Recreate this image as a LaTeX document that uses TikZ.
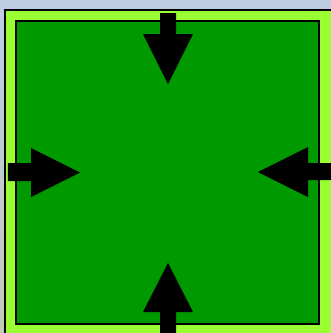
\documentclass[tikz,border=0pt]{standalone}
\begin{document}
\begin{tikzpicture}[x=1pt,y=-1pt,
  frame/.style={draw=black,line width=2.4pt},
  arrowshape/.style={fill=black,draw=none}]
\definecolor{bgtop}{HTML}{BCCDE4}
\definecolor{bgbot}{HTML}{BFCDB6}
\definecolor{lightgr}{HTML}{99FF33}
\definecolor{darkgr}{HTML}{009900}
\useasboundingbox (0,0) rectangle (331,333);
\clip (0,0) rectangle (331,333);
\shade[top color=bgtop,bottom color=bgbot] (0,0) rectangle (331,333);
% outer square
\draw[frame,fill=lightgr] (5,10) rectangle (350,350);
% inner square
\draw[frame,fill=darkgr] (16,21) rectangle (319,324);
% top arrow
\fill[arrowshape] (160,13) -- (176,13) -- (176,34) -- (193,34) -- (168,84) -- (143,34) -- (160,34) -- cycle;
% bottom arrow
\fill[arrowshape] (160,340) -- (176,340) -- (176,312) -- (193,312) -- (168,263) -- (143,312) -- (160,312) -- cycle;
% left arrow
\fill[arrowshape] (8,163) -- (8,181) -- (31,181) -- (31,197) -- (80,172.5) -- (31,148) -- (31,163) -- cycle;
% right arrow
\fill[arrowshape] (340,163) -- (340,180) -- (308,180) -- (308,197) -- (258,172) -- (308,147) -- (308,163) -- cycle;
\end{tikzpicture}
\end{document}
